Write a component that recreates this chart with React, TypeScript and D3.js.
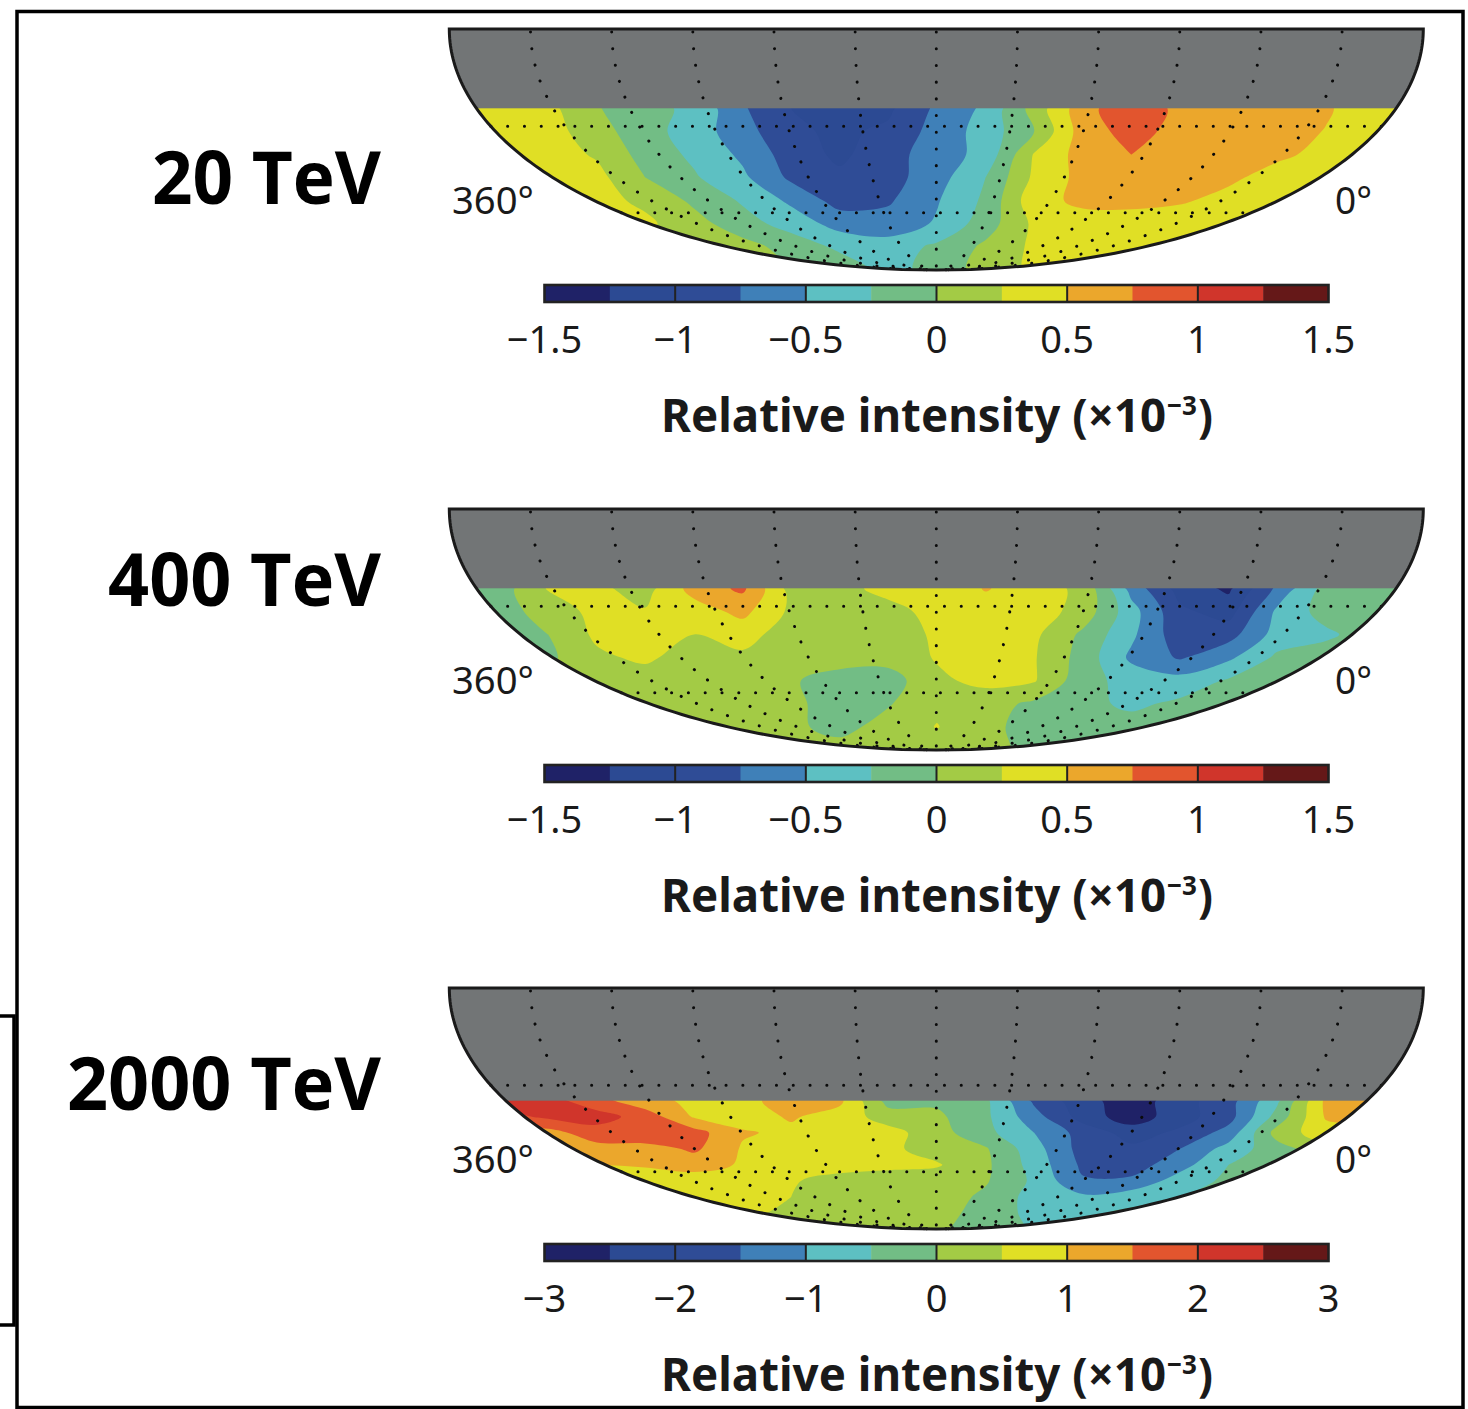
import React from "react";
import * as d3 from "d3";

// relative intensity, one row per strip from the top of the data down
const rows20TeV = [
  [0.4, 0.4, 0.32, 0.02, -0.18, -0.3, -0.72, -1.0, -1.05, -1.05, -0.7, -0.45, 0.1, 0.65, 0.95, 0.68, 0.62, 0.6, 0.53, 0.35, 0.3],
  [0.4, 0.4, 0.36, 0.1, -0.15, -0.37, -0.65, -0.95, -1.05, -0.95, -0.65, -0.4, 0.0, 0.62, 0.85, 0.66, 0.62, 0.6, 0.49, 0.33, 0.3],
  [0.4, 0.4, 0.37, 0.22, -0.1, -0.3, -0.55, -0.87, -1.05, -0.85, -0.62, -0.42, 0.27, 0.6, 0.75, 0.6, 0.58, 0.55, 0.43, 0.3, 0.3],
  [0.4, 0.4, 0.38, 0.33, 0.0, -0.22, -0.45, -0.8, -0.95, -0.85, -0.6, -0.25, 0.3, 0.58, 0.6, 0.58, 0.55, 0.4, 0.3, 0.3, 0.3],
  [0.35, 0.35, 0.35, 0.33, 0.2, -0.05, -0.28, -0.55, -0.85, -0.78, -0.52, -0.2, 0.42, 0.55, 0.56, 0.53, 0.42, 0.3, 0.3, 0.3, 0.3],
  [0.3, 0.3, 0.3, 0.3, 0.3, 0.1, -0.15, -0.35, -0.6, -0.65, -0.47, -0.12, 0.3, 0.4, 0.4, 0.35, 0.3, 0.3, 0.3, 0.3, 0.3],
  [0.2, 0.2, 0.2, 0.2, 0.15, 0.1, 0.1, -0.1, -0.3, -0.38, -0.2, 0.05, 0.3, 0.35, 0.35, 0.3, 0.3, 0.3, 0.3, 0.3, 0.3],
  [0.1, 0.1, 0.1, 0.1, 0.1, 0.1, 0.1, 0.0, -0.1, -0.35, -0.15, 0.1, 0.3, 0.3, 0.3, 0.3, 0.3, 0.3, 0.3, 0.3, 0.3],
];

const rows400TeV = [
  [-0.15, -0.12, 0.27, 0.3, 0.15, 0.6, 0.8, 0.15, 0.2, 0.3, 0.28, 0.52, 0.35, 0.2, -0.6, -1.1, -1.3, -0.7, -0.15, -0.12, -0.12],
  [-0.12, -0.1, 0.1, 0.33, 0.27, 0.38, 0.57, 0.2, 0.15, 0.2, 0.3, 0.38, 0.38, 0.15, -0.4, -0.95, -1.1, -0.45, -0.15, -0.12, -0.12],
  [-0.12, -0.1, 0.0, 0.3, 0.33, 0.25, 0.35, 0.12, 0.13, 0.15, 0.28, 0.38, 0.3, -0.05, -0.45, -0.9, -0.85, -0.4, -0.3, -0.12, -0.12],
  [-0.1, -0.1, -0.05, 0.2, 0.3, 0.12, 0.2, 0.12, 0.08, 0.1, 0.27, 0.36, 0.27, -0.1, -0.55, -0.78, -0.55, -0.2, -0.12, -0.1, -0.1],
  [0.05, 0.05, 0.05, 0.08, 0.12, 0.15, 0.13, 0.02, -0.08, -0.12, 0.2, 0.32, 0.27, -0.15, -0.35, -0.4, -0.22, -0.12, -0.12, -0.12, -0.12],
  [0.1, 0.1, 0.1, 0.1, 0.1, 0.12, 0.1, 0.05, -0.1, -0.02, 0.2, 0.1, -0.05, -0.18, -0.3, -0.2, -0.12, -0.12, -0.12, -0.12, -0.12],
  [0.1, 0.1, 0.1, 0.1, 0.1, 0.1, 0.1, 0.05, -0.08, 0.1, 0.26, 0.07, -0.1, -0.15, -0.15, -0.12, -0.12, -0.12, -0.12, -0.12, -0.12],
  [0.1, 0.1, 0.1, 0.1, 0.1, 0.1, 0.1, 0.1, 0.1, 0.1, 0.1, 0.1, -0.1, -0.12, -0.12, -0.12, -0.12, -0.12, -0.12, -0.12, -0.12],
];

const rows2000TeV = [
  [2.2, 2.2, 2.2, 1.7, 1.15, 0.9, 0.9, 1.15, 1.1, -0.2, -0.1, -0.4, -1.6, -2.3, -2.8, -2.2, -1.7, -0.6, 1.1, 1.5, 1.5],
  [1.8, 1.8, 2.1, 2.2, 1.8, 0.95, 0.8, 1.05, 0.8, 0.25, 0.1, -0.4, -1.3, -2.2, -2.8, -2.2, -1.7, -0.3, 1.05, 1.2, 1.2],
  [1.4, 1.4, 1.3, 1.8, 2.0, 1.7, 1.05, 0.9, 0.75, 0.7, 0.2, -0.35, -1.0, -1.7, -2.2, -1.9, -1.3, 0.2, 0.8, 0.8, 0.8],
  [1.2, 1.2, 1.2, 1.3, 1.25, 1.6, 0.95, 0.8, 0.7, 0.6, 0.3, 0.05, -0.8, -1.7, -1.9, -1.5, -0.8, -0.2, 0.3, 0.3, 0.3],
  [1.0, 1.0, 1.0, 1.0, 1.05, 1.2, 0.95, 0.75, 0.72, 0.65, 0.55, 0.1, -0.7, -1.6, -1.75, -1.2, -0.5, -0.2, -0.2, -0.2, -0.2],
  [0.8, 0.8, 0.8, 0.8, 0.75, 0.75, 0.7, 0.55, 0.3, 0.2, 0.25, 0.05, -0.6, -1.45, -1.4, -0.75, -0.4, -0.3, -0.3, -0.3, -0.3],
  [0.7, 0.7, 0.7, 0.7, 0.7, 0.65, 0.7, 0.5, 0.35, 0.25, 0.25, -0.1, -0.7, -0.9, -0.7, -0.5, -0.3, -0.3, -0.3, -0.3, -0.3],
  [0.55, 0.55, 0.55, 0.55, 0.55, 0.55, 0.55, 0.45, 0.3, 0.25, 0.2, -0.2, -0.65, -0.6, -0.4, -0.3, -0.3, -0.3, -0.3, -0.3, -0.3],
  [0.4, 0.4, 0.4, 0.4, 0.4, 0.4, 0.4, 0.3, 0.25, 0.25, 0.1, -0.3, -0.55, -0.5, -0.4, -0.3, -0.3, -0.3, -0.3, -0.3, -0.3],
];

const bandColors = [
  "#1f2267", "#2c4a93", "#2f4c96", "#3f80b8", "#5dc0c2", "#72bd85",
  "#a3cb45", "#e0df25", "#eba72c", "#e2552e", "#d0352b", "#651818",
];
const ticks15 = [-1.5, -1, -0.5, 0, 0.5, 1, 1.5];
const ticks3 = [-3, -2, -1, 0, 1, 2, 3];
const meridians = [-150, -120, -90, -60, -30, 0, 30, 60, 90, 120, 150];
const parallels = [30, 60];

const mapCx = 936.3;
const mapA = 487;
const mapB = 241;

// Mollweide, with lat measured southwards from the flat top edge
function mollweide(lon: number, lat: number, top: number): [number, number] {
  const target = Math.PI * Math.sin((lat * Math.PI) / 180);
  let lo = 0;
  let hi = Math.PI / 2;
  for (let i = 0; i < 40; i++) {
    const t = (lo + hi) / 2;
    if (2 * t + Math.sin(2 * t) < target) lo = t;
    else hi = t;
  }
  const theta = (lo + hi) / 2;
  return [mapCx + (mapA * lon * Math.cos(theta)) / 180, top + mapB * Math.sin(theta)];
}

const line = d3.line();

function SkyMap({ rows, top, cut, extent, ticks, id }: any) {
  const nRows = rows.length;
  const nCols = rows[0].length;
  const x = d3.scaleLinear().domain([0.5, nCols - 0.5]).range([451, 1423]);
  const y = d3.scaleLinear().domain([0.5, nRows - 0.5]).range([cut, top + mapB]);
  const step = extent / 6;
  const thresholds = d3.range(-extent + step, extent - step / 2, step);
  const contours = d3.contours().size([nCols, nRows]).thresholds(thresholds)(rows.flat());
  // contour rings rounded off so the bands don't look like grid polygons
  const ringPath = d3
    .line()
    .x((p: any) => x(p[0]))
    .y((p: any) => y(p[1]))
    .curve(d3.curveCatmullRomClosed.alpha(0.5));
  const bandPath = (c: any) =>
    c.coordinates.map((poly: any) => poly.map((ring: any) => ringPath(ring.slice(0, -1))).join("")).join("");

  const lats = d3.range(0, 90.01, 1);
  const outline =
    line(lats.map((l) => mollweide(-180, l, top)).concat(lats.slice().reverse().map((l) => mollweide(180, l, top)))) + "Z";
  const barX = d3.scaleLinear().domain([-extent, extent]).range([544.5, 1328.5]);
  const bandEdges = d3.range(-extent, extent - step / 2, step);
  const barY = top + 256;

  return (
    <g>
      <clipPath id={id}>
        <path d={outline} />
      </clipPath>
      <g clipPath={`url(#${id})`}>
        <rect x={440} y={cut - 4} width={1000} height={top + 250 - cut} fill={bandColors[0]} />
        {contours.map((c: any, i: number) => (
          <path key={i} d={bandPath(c)} fill={bandColors[i + 1]} fillRule="evenodd" />
        ))}
        <rect x={440} y={top - 5} width={1000} height={cut - top + 5} fill="#727576" />
      </g>
      {meridians.map((m) => (
        <path
          key={m}
          d={line(lats.map((l) => mollweide(m, l, top))) as string}
          fill="none"
          stroke="#0a0a0a"
          strokeWidth={3}
          strokeLinecap="round"
          strokeDasharray="0.1 16.6"
          strokeDashoffset={-3}
        />
      ))}
      {parallels.map((p) => (
        <path
          key={p}
          d={line([mollweide(-180, p, top), mollweide(180, p, top)]) as string}
          fill="none"
          stroke="#0a0a0a"
          strokeWidth={3}
          strokeLinecap="round"
          strokeDasharray="0.1 16.7"
        />
      ))}
      <path d={outline} fill="none" stroke="#1a1a1a" strokeWidth={3} />
      <text x={452} y={top + 185} fontSize={38} fill="#1a1a1a" fontFamily="'Noto Sans'" textLength={82} lengthAdjust="spacingAndGlyphs">
        360°
      </text>
      <text x={1335} y={top + 185} fontSize={38} fill="#1a1a1a" fontFamily="'Noto Sans'" textLength={37} lengthAdjust="spacingAndGlyphs">
        0°
      </text>

      {bandEdges.map((b: number, i: number) => (
        <rect key={i} x={barX(b)} y={barY} width={barX(b + step) - barX(b) + 0.5} height={17} fill={bandColors[i]} />
      ))}
      <rect x={barX(-extent)} y={barY} width={barX(extent) - barX(-extent)} height={17} fill="none" stroke="#222" strokeWidth={2.6} />
      {ticks.slice(1, -1).map((t: number) => (
        <line key={t} x1={barX(t)} x2={barX(t)} y1={barY} y2={barY + 17} stroke="#222" strokeWidth={2} />
      ))}
      {ticks.map((t: number) => (
        <text key={t} x={barX(t)} y={barY + 68} fontSize={38} textAnchor="middle" fill="#1a1a1a" fontFamily="'Noto Sans'">
          {t < 0 ? `\u2212${-t}` : t}
        </text>
      ))}
      <g fontWeight={700} fill="#1a1a1a" fontFamily="'Noto Sans'">
        <text x={661} y={barY + 147} fontSize={46} textLength={505} lengthAdjust="spacingAndGlyphs">
          Relative intensity (×10
        </text>
        <text x={1167} y={barY + 130} fontSize={27} textLength={30} lengthAdjust="spacingAndGlyphs">
          {"\u22123"}
        </text>
        <text x={1198} y={barY + 147} fontSize={46} textLength={15} lengthAdjust="spacingAndGlyphs">
          )
        </text>
      </g>
    </g>
  );
}

const titles = [
  { label: "20 TeV", y: 204, w: 229 },
  { label: "400 TeV", y: 606, w: 273 },
  { label: "2000 TeV", y: 1110, w: 314 },
];

export default function App() {
  return (
    <svg width={1468} height={1409} style={{ position: "absolute", left: 0, top: 0, display: "block" }}>
      <rect width={1468} height={1409} fill="#fff" />
      <rect x={17} y={11.5} width={1446} height={1396} fill="none" stroke="#000" strokeWidth={3.5} />
      <path d="M0 1016H14V1325H0" fill="none" stroke="#000" strokeWidth={3.5} />
      {titles.map((t) => (
        <text key={t.label} x={381} y={t.y} textAnchor="end" fontSize={74} fontWeight={700} fill="#000" fontFamily="'Open Sans'" textLength={t.w} lengthAdjust="spacingAndGlyphs">
          {t.label}
        </text>
      ))}
      <SkyMap id="clip20" rows={rows20TeV} top={29} cut={108.3} extent={1.5} ticks={ticks15} />
      <SkyMap id="clip400" rows={rows400TeV} top={509} cut={588.3} extent={1.5} ticks={ticks15} />
      <SkyMap id="clip2000" rows={rows2000TeV} top={988} cut={1100.7} extent={3} ticks={ticks3} />
    </svg>
  );
}
